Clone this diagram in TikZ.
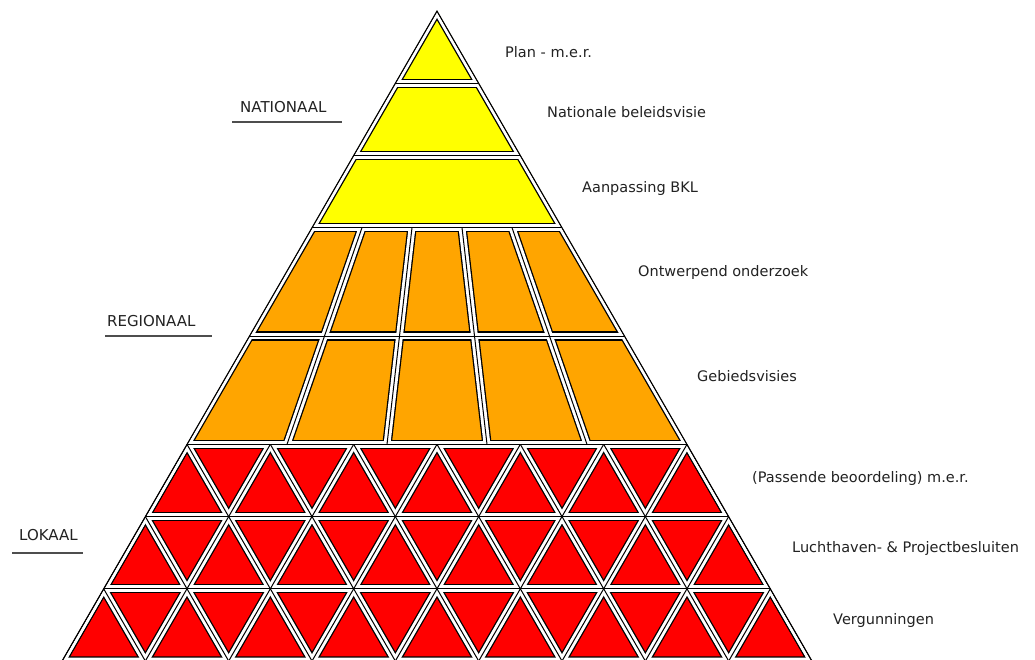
\documentclass[tikz,border=0pt]{standalone}
\usepackage{fontspec}
\setmainfont{DejaVu Sans}
\definecolor{pyel}{HTML}{FFFF00}
\definecolor{pora}{HTML}{FFA500}
\definecolor{pred}{HTML}{FF0000}
\definecolor{ptxt}{HTML}{222222}
\begin{document}
\begin{tikzpicture}[x=1pt,y=-1pt,
  lab/.style={inner sep=0pt, anchor=base west, text=ptxt, font=\fontsize{14.5}{16}\selectfont},
  capl/.style={lab, font=\fontsize{15}{17}\selectfont},
  uline/.style={draw=ptxt!80, line width=1.4pt},
  outer/.style={draw=black, line width=1pt, line join=miter}]
\useasboundingbox (0,0) rectangle (1035,659);
\clip (0,0) rectangle (1035,659);
\fill[white] (0,0) rectangle (1035,659);
% corners
\coordinate (A) at (437,11);
\coordinate (BL) at (62,661);
\coordinate (BR) at (812,661);
\coordinate (YL) at (312,227.67);
\coordinate (YR) at (562,227.67);
\coordinate (OL) at (187,444.33);
\coordinate (OR) at (687,444.33);
% fills
\fill[pyel] (A) -- (YL) -- (YR) -- cycle;
\fill[pora] (YL) -- (YR) -- (OR) -- (OL) -- cycle;
\fill[pred] (OL) -- (OR) -- (BR) -- (BL) -- cycle;
% grid: wide black, white gap, thin black centre
\begin{scope}
  \clip (A) -- (BL) -- (BR) -- cycle;
  \foreach \lw/\col in {9.4/black, 6.8/white, 1/black} {
    \draw[line width=\lw pt, \col, line join=round] (A) -- (BL) -- (BR) -- cycle;
    \foreach \yy in {83.22,155.44,227.67,336,444.33,516.56,588.78}
      \draw[line width=\lw pt, \col] (0,\yy) -- (1035,\yy);
    \foreach \xt/\xb in {362/287,412/387,462/487,512/587}
      \draw[line width=\lw pt, \col] (\xt,227.67) -- (\xb,444.33);
    \foreach \k in {0,...,9} {
      \draw[line width=\lw pt, \col] ({62+83.333*\k},661) -- ({62+83.333*\k+125},444.33);
      \draw[line width=\lw pt, \col] ({62+83.333*\k},661) -- ({62+83.333*\k-125},444.33);
    }
  }
\end{scope}
\draw[outer] (A) -- (BL) -- (BR) -- cycle;
% right labels
\node[lab] (l1) at (505,57) {Plan - m.e.r.};
\node[lab] (l2) at (547,117) {Nationale beleidsvisie};
\node[lab] (l3) at (582,192) {Aanpassing BKL};
\node[lab] (l4) at (638,276) {Ontwerpend onderzoek};
\node[lab] (l5) at (697,381) {Gebiedsvisies};
\node[lab] (l6) at (752,482) {(Passende beoordeling) m.e.r.};
\node[lab] (l7) at (792,552) {Luchthaven- \& Projectbesluiten};
\node[lab] (l8) at (833,624) {Vergunningen};
% left labels
\node[capl] (n1) at (240,112) {NATIONAAL};
\node[capl] (n2) at (107,326) {REGIONAAL};
\node[capl] (n3) at (19,540) {LOKAAL};
\coordinate (u1a) at (232,122); \coordinate (u1b) at (342,122);
\coordinate (u2a) at (105,336); \coordinate (u2b) at (212,336);
\coordinate (u3a) at (12,553);  \coordinate (u3b) at (83,553);
\draw[uline] (u1a) -- (u1b);
\draw[uline] (u2a) -- (u2b);
\draw[uline] (u3a) -- (u3b);
\end{tikzpicture}
\end{document}
